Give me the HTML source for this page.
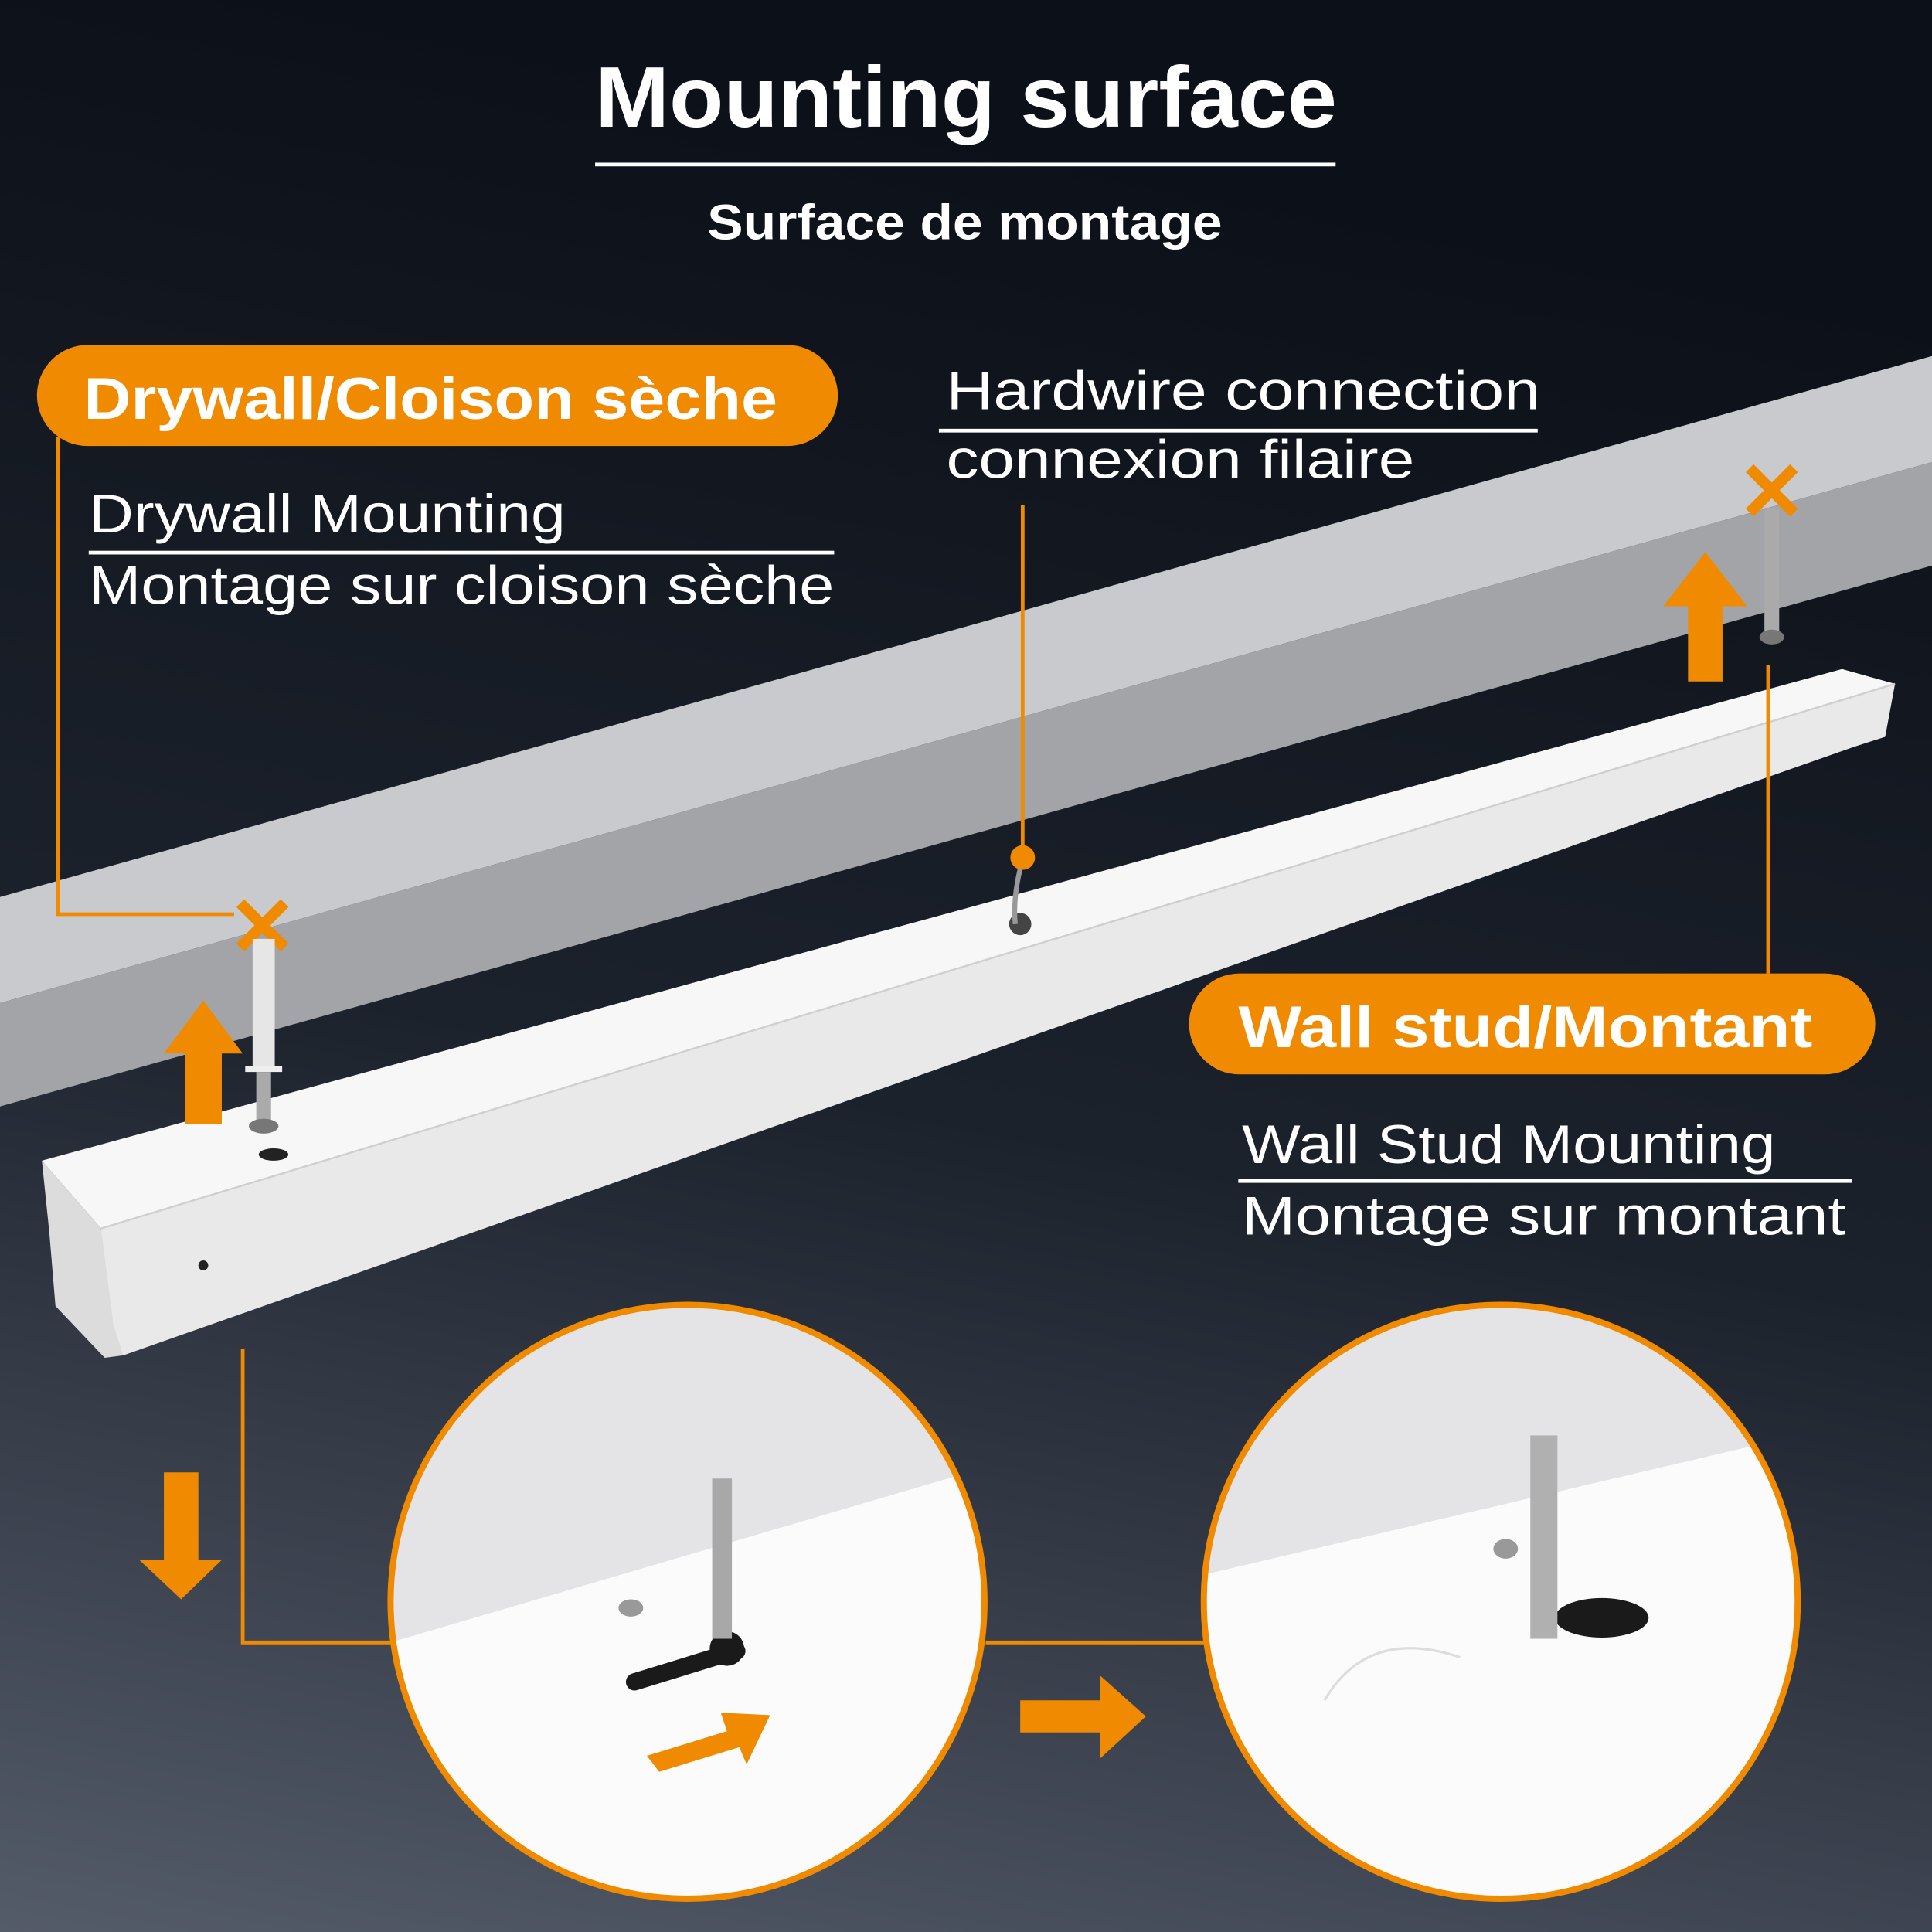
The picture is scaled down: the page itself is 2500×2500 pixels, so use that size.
<!DOCTYPE html>
<html><head><meta charset="utf-8"><style>
html,body{margin:0;padding:0;background:#111;}
svg{display:block}
text{font-family:"Liberation Sans",sans-serif;}
</style></head><body>
<svg width="2500" height="2500" viewBox="0 0 1568 1568" xmlns="http://www.w3.org/2000/svg">
<defs>
<linearGradient id="bg" x1="0.2" y1="0" x2="0" y2="1">
<stop offset="0" stop-color="#0c1018"/><stop offset="0.5" stop-color="#1c222c"/><stop offset="1" stop-color="#545b69"/>
</linearGradient>
<clipPath id="c1"><circle cx="558" cy="1300" r="240"/></clipPath>
<clipPath id="c2"><circle cx="1218" cy="1300" r="240"/></clipPath>
</defs>
<rect width="1568" height="1568" fill="url(#bg)"/>
<!-- beam -->
<polygon points="0,728 1568,289 1568,375 0,814" fill="#c9cacd"/>
<polygon points="0,814 1568,375 1568,459 0,898" fill="#a3a4a8"/>
<!-- fixture -->
<polygon points="34,942 1495,543 1538,555 82,997" fill="#f7f7f7"/>
<polygon points="82,997 1538,555 1530,598 1505,606 100,1100 88,1080" fill="#e9e9ea"/>
<polygon points="34,942 82,997 92,1075 100,1100 85,1102 45,1060 40,1000" fill="#dcdcdc"/>
<line x1="82" y1="997" x2="1538" y2="555" stroke="#cfcfd2" stroke-width="1.5"/>
<circle cx="165" cy="1027" r="4" fill="#222"/>
<ellipse cx="222" cy="937" rx="12" ry="5" fill="#222"/>
<circle cx="828" cy="750" r="9" fill="#444"/>
<!-- titles -->
<text x="784" y="103" text-anchor="middle" font-size="70" font-weight="bold" fill="#fff" textLength="602" lengthAdjust="spacingAndGlyphs">Mounting surface</text>
<rect x="483" y="132" width="601" height="3" fill="#fff"/>
<text x="783" y="194" text-anchor="middle" font-size="40" font-weight="bold" fill="#fff" textLength="418" lengthAdjust="spacingAndGlyphs">Surface de montage</text>
<!-- drywall pill -->
<rect x="30" y="280" width="650" height="82" rx="41" fill="#f08a00"/>
<text x="68" y="340" font-size="48" font-weight="bold" fill="#fff" textLength="563" lengthAdjust="spacingAndGlyphs">Drywall/Cloison sèche</text>
<text x="72" y="432" font-size="44" fill="#fff" textLength="387" lengthAdjust="spacingAndGlyphs">Drywall Mounting</text>
<rect x="72" y="447" width="605" height="3" fill="#fff"/>
<text x="72" y="490" font-size="44" fill="#fff" textLength="605" lengthAdjust="spacingAndGlyphs">Montage sur cloison sèche</text>
<!-- hardwire -->
<text x="768" y="332" font-size="44" fill="#fff" textLength="482" lengthAdjust="spacingAndGlyphs">Hardwire connection</text>
<rect x="762" y="348" width="486" height="3" fill="#fff"/>
<text x="768" y="388" font-size="44" fill="#fff" textLength="380" lengthAdjust="spacingAndGlyphs">connexion filaire</text>
<line x1="830" y1="410" x2="830" y2="690" stroke="#f08a00" stroke-width="3"/>
<circle cx="830" cy="696" r="10" fill="#f08a00"/>
<path d="M828 705 Q822 730 824 750" stroke="#999" stroke-width="4" fill="none"/>
<!-- wall stud pill -->
<rect x="965" y="790" width="557" height="82" rx="41" fill="#f08a00"/>
<text x="1005" y="850" font-size="48" font-weight="bold" fill="#fff" textLength="466" lengthAdjust="spacingAndGlyphs">Wall stud/Montant</text>
<text x="1008" y="944" font-size="44" fill="#fff" textLength="433" lengthAdjust="spacingAndGlyphs">Wall Stud Mounting</text>
<rect x="1005" y="957" width="498" height="3" fill="#fff"/>
<text x="1008" y="1002" font-size="44" fill="#fff" textLength="490" lengthAdjust="spacingAndGlyphs">Montage sur montant</text>
<!-- connectors -->
<polyline points="47,355 47,742 190,742" fill="none" stroke="#f08a00" stroke-width="3"/>
<line x1="1435" y1="540" x2="1435" y2="790" stroke="#f08a00" stroke-width="3"/>
<polyline points="197,1095 197,1333 318,1333" fill="none" stroke="#f08a00" stroke-width="3"/>
<line x1="800" y1="1333" x2="980" y2="1333" stroke="#f08a00" stroke-width="3"/>
<!-- X marks -->
<g stroke="#f08a00" stroke-width="9"><line x1="195" y1="733" x2="231" y2="769"/><line x1="231" y1="733" x2="195" y2="769"/>
<line x1="1420" y1="380" x2="1456" y2="416"/><line x1="1456" y1="380" x2="1420" y2="416"/></g>
<!-- anchor + screw left -->
<rect x="205" y="762" width="18" height="105" fill="#e6e6e6"/>
<rect x="199" y="865" width="30" height="5" fill="#eee"/>
<rect x="208" y="870" width="12" height="42" fill="#aaa"/>
<ellipse cx="214" cy="914" rx="12" ry="6" fill="#777"/>
<!-- screw right -->
<rect x="1432" y="412" width="12" height="100" fill="#aaa"/>
<ellipse cx="1438" cy="517" rx="10" ry="6" fill="#777"/>
<!-- arrows -->
<polygon points="150,912 180,912 180,855 197,855 165,812 133,855 150,855" fill="#f08a00"/>
<polygon points="1370,553 1398,553 1398,492 1418,492 1384,448 1350,492 1370,492" fill="#f08a00"/>
<polygon points="133,1195 161,1195 161,1266 180,1266 147,1298 113,1266 133,1266" fill="#f08a00"/>
<polygon points="828,1380 893,1380 893,1360 930,1393 893,1427 893,1406 828,1406" fill="#f08a00"/>
<!-- circle 1 -->
<g clip-path="url(#c1)">
<rect x="300" y="1040" width="520" height="520" fill="#e4e3e5"/>
<polygon points="300,1338 820,1185 820,1560 300,1560" fill="#fbfbfb"/>
<path d="M515 1365 L580 1345 L598 1340" stroke="#1a1a1a" stroke-width="14" stroke-linecap="round"/>
<circle cx="590" cy="1338" r="14" fill="#1a1a1a"/>
<rect x="578" y="1200" width="16" height="130" fill="#a8a8a8"/>
<ellipse cx="512" cy="1305" rx="10" ry="7" fill="#999"/>
<polygon points="525,1425 590,1405 585,1390 625,1392 606,1432 600,1418 535,1438" fill="#f08a00"/>
</g>
<circle cx="558" cy="1300" r="241" fill="none" stroke="#f08a00" stroke-width="5"/>
<!-- circle 2 -->
<g clip-path="url(#c2)">
<rect x="960" y="1040" width="520" height="520" fill="#e4e3e5"/>
<polygon points="960,1282 1480,1160 1480,1560 960,1560" fill="#fbfbfb"/>
<ellipse cx="1300" cy="1313" rx="38" ry="16" fill="#1a1a1a"/>
<rect x="1242" y="1165" width="22" height="165" fill="#b0b0b0"/>
<ellipse cx="1222" cy="1257" rx="10" ry="8" fill="#999"/>
<path d="M1075 1380 Q1110 1320 1185 1345" stroke="#ddd" stroke-width="2" fill="none"/>
</g>
<circle cx="1218" cy="1300" r="241" fill="none" stroke="#f08a00" stroke-width="5"/>
</svg>
</body></html>
